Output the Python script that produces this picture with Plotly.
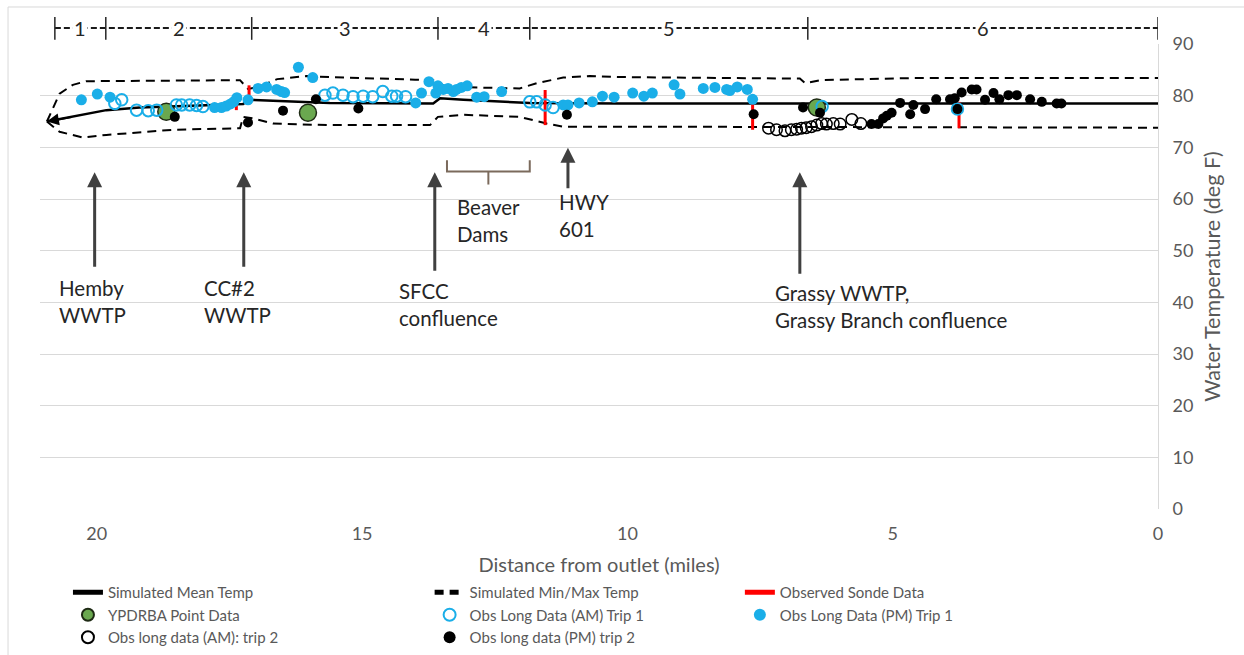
import plotly.graph_objects as go

# ---------------- data ----------------
mean_x = [20.94, 20.45, 19.82, 19.19, 18.56, 17.81, 17.24, 17.15, 16.68, 15.61, 13.66, 13.53, 13.09, 11.84, 10.14, 7.0, 3.0, 0.0]
mean_y = [75.0, 75.9, 77.2, 77.7, 77.9, 78.2, 78.4, 79.2, 79.0, 78.6, 78.5, 79.5, 79.2, 78.6, 78.5, 78.5, 78.5, 78.5]

max_x = [20.94, 20.70, 20.45, 20.20, 17.30, 17.22, 17.15, 16.98, 16.60, 16.05, 15.61, 14.0, 13.66, 13.41, 12.03, 11.71, 11.21, 10.71, 10.14, 6.75, 6.65, 6.37, 4.67, 0.0]
max_y = [75.0, 80.4, 82.1, 82.8, 83.0, 82.1, 81.3, 81.6, 83.2, 83.8, 83.6, 83.1, 83.0, 81.7, 81.4, 82.4, 83.5, 83.8, 83.6, 83.3, 82.4, 83.0, 83.4, 83.4]

min_x = [20.94, 20.70, 20.26, 19.82, 18.56, 17.30, 17.24, 17.05, 16.68, 15.61, 13.72, 13.57, 13.09, 12.03, 11.52, 11.21, 10.14, 0.0]
min_y = [75.0, 73.0, 71.9, 72.4, 73.4, 73.7, 75.9, 75.6, 74.6, 74.3, 74.3, 75.9, 76.3, 75.9, 74.6, 74.0, 74.0, 73.8]

sonde_x = [17.13, 17.37, 11.55, 7.64, 3.75]
sonde_lo = [80.1, 77.2, 74.3, 73.4, 73.7]
sonde_hi = [82.0, 78.2, 81.1, 78.5, 78.8]

ypdrba_x = [18.69, 16.02, 6.43]
ypdrba_y = [76.9, 76.7, 77.7]

am1_x = [19.66, 19.53, 19.25, 19.03, 18.87, 18.50, 18.40, 18.25, 18.12, 18.00, 15.70, 15.55, 15.36, 15.17, 14.98,
         14.80, 14.61, 14.44, 14.35, 14.18, 11.84, 11.71, 11.55, 11.40, 6.33, 3.78]
am1_y = [78.5, 79.2, 77.2, 77.1, 77.2, 78.2, 78.2, 78.2, 78.1, 77.9, 80.1, 80.5, 80.1, 79.8, 79.9,
         79.8, 80.8, 79.9, 79.9, 79.8, 78.8, 78.8, 78.2, 77.7, 77.9, 77.4]

pm1_x = [20.29, 19.99, 19.75, 17.78, 17.65, 17.56, 17.48, 17.42, 17.36, 17.15, 16.96, 16.80, 16.61, 16.52, 16.46,
         16.20, 15.93, 13.99, 13.88, 13.74, 13.61, 13.57, 13.47, 13.38, 13.28, 13.22, 13.13, 13.02, 12.84, 12.70,
         12.37, 11.21, 11.12, 10.91, 10.66, 10.47, 10.25, 9.90, 9.69, 9.53, 9.12, 9.01, 8.57, 8.35, 8.13, 8.07,
         7.93, 7.74, 7.64]
pm1_y = [79.2, 80.3, 79.7, 77.7, 77.7, 78.0, 78.4, 78.8, 79.6, 79.2, 81.4, 81.7, 81.2, 80.8, 80.6,
         85.5, 83.5, 78.6, 80.5, 82.7, 80.5, 81.9, 81.2, 81.4, 80.8, 81.2, 81.6, 81.9, 79.7, 79.8,
         80.8, 78.2, 78.2, 78.6, 78.8, 79.9, 79.7, 80.5, 79.9, 80.5, 82.1, 80.3, 81.4, 81.6, 81.2, 81.0,
         81.7, 81.2, 79.3]

am2_x = [7.34, 7.19, 7.03, 6.91, 6.81, 6.72, 6.63, 6.53, 6.43, 6.34, 6.25, 6.12, 5.99, 5.77, 5.60]
am2_y = [73.7, 73.4, 73.2, 73.4, 73.5, 73.7, 73.8, 74.0, 74.3, 74.6, 74.5, 74.6, 74.5, 75.4, 74.6]

pm2_x = [18.53, 17.15, 16.49, 15.87, 15.07, 11.14, 7.62, 6.69, 6.37, 5.40, 5.27, 5.18, 5.11, 5.02, 4.86, 4.67,
         4.61, 4.39, 4.18, 3.92, 3.83, 3.78, 3.70, 3.51, 3.42, 3.26, 3.10, 2.99, 2.82, 2.66, 2.41, 2.19, 1.91, 1.82]
pm2_y = [75.9, 74.8, 77.1, 79.3, 77.5, 76.3, 76.4, 77.7, 76.7, 74.5, 74.5, 75.6, 76.1, 76.7, 78.6, 76.4,
         78.2, 77.4, 79.3, 79.3, 79.5, 77.4, 80.6, 81.2, 81.2, 79.2, 80.5, 79.3, 80.1, 80.1, 79.3, 78.8, 78.5, 78.5]

# reach segments (miles from outlet)
seg_bounds = [20.79, 19.83, 17.08, 13.57, 11.84, 6.60, 0.0]
seg_labels = ["1", "2", "3", "4", "5", "6"]

x_ticks = [0, 5, 10, 15, 20]
y_ticks = [0, 10, 20, 30, 40, 50, 60, 70, 80, 90]

FONT = "Lato"
GRAY = "#595959"
CYAN = "#1aaee8"

fig = go.Figure()

fig.add_trace(go.Scatter(x=mean_x, y=mean_y, mode="lines", name="Simulated Mean Temp",
                         line=dict(color="black", width=2.5), legend="legend"))
fig.add_trace(go.Scatter(x=max_x, y=max_y, mode="lines", name="Simulated Min/Max Temp",
                         line=dict(color="black", width=2, dash="9px,6px"), legend="legend2"))
fig.add_trace(go.Scatter(x=min_x, y=min_y, mode="lines", name="Simulated Min/Max Temp", showlegend=False,
                         line=dict(color="black", width=2, dash="9px,6px"), legend="legend2"))

sx, sy = [], []
for xv, lo, hi in zip(sonde_x, sonde_lo, sonde_hi):
    sx += [xv, xv, None]
    sy += [lo, hi, None]
fig.add_trace(go.Scatter(x=sx, y=sy, mode="lines", name="Observed Sonde Data",
                         line=dict(color="#ff0000", width=3), legend="legend3"))

fig.add_trace(go.Scatter(x=ypdrba_x, y=ypdrba_y, mode="markers", name="YPDRBA Point Data", legend="legend",
                         marker=dict(size=17, color="#6aa84f", line=dict(color="#1e2a14", width=1.5))))
fig.add_trace(go.Scatter(x=am1_x, y=am1_y, mode="markers", name="Obs Long Data (AM) Trip 1", legend="legend2",
                         marker=dict(size=11.5, symbol="circle-open", color=CYAN, line=dict(width=2))))
fig.add_trace(go.Scatter(x=pm1_x, y=pm1_y, mode="markers", name="Obs Long Data (PM) Trip 1", legend="legend3",
                         marker=dict(size=11, color=CYAN)))
fig.add_trace(go.Scatter(x=am2_x, y=am2_y, mode="markers", name="Obs long data (AM): trip 2", legend="legend",
                         marker=dict(size=11.5, symbol="circle-open", color="black", line=dict(width=1.5))))
fig.add_trace(go.Scatter(x=pm2_x, y=pm2_y, mode="markers", name="Obs long data (PM) trip 2", legend="legend2",
                         marker=dict(size=10, color="black")))

annotations = []
# arrowhead at the upstream end of the mean line
annotations.append(dict(x=mean_x[0], y=mean_y[0], ax=mean_x[1], ay=mean_y[1], axref="x", ayref="y",
                        xref="x", yref="y", text="", showarrow=True, arrowhead=2, arrowsize=1.2,
                        arrowwidth=2, arrowcolor="black", standoff=0))

# labelled arrows
arrow_specs = [  # (x mile, head temp, tail px length)
    (20.04, 65.2, 96), (17.23, 65.2, 96), (13.63, 65.2, 100), (11.12, 69.9, 42), (6.75, 65.2, 103)]
for xm, yh, L in arrow_specs:
    annotations.append(dict(x=xm, y=yh, xref="x", yref="y", ax=0, ay=L, text="", showarrow=True,
                            arrowhead=2, arrowsize=1, arrowwidth=3, arrowcolor="#404040", standoff=0))

text_specs = [
    ("Hemby<br>WWTP", 20.75, 45.4),
    ("CC#2<br>WWTP", 18.02, 45.4),
    ("SFCC<br>confluence", 14.35, 45.0),
    ("Beaver<br>Dams", 13.25, 61.2),
    ("HWY<br>601", 11.33, 62.2),
    ("Grassy WWTP,<br>Grassy Branch confluence", 7.25, 44.6),
]
for t, xm, yt in text_specs:
    annotations.append(dict(x=xm, y=yt, xref="x", yref="y", text=t, showarrow=False, xanchor="left",
                            yanchor="top", align="left", font=dict(family=FONT, size=20.5, color="#262626")))

# segment labels on top bar
bar_y = 1.0344
for i, lab in enumerate(seg_labels):
    xm = (seg_bounds[i] + seg_bounds[i + 1]) / 2
    annotations.append(dict(x=xm, y=bar_y, xref="x", yref="paper", text=lab, showarrow=False,
                            xanchor="center", yanchor="middle",
                            bgcolor="white", borderpad=1, font=dict(family=FONT, size=20, color="#262626")))

shapes = []
shapes.append(dict(type="line", xref="x", yref="paper", x0=seg_bounds[0], x1=seg_bounds[-1], y0=bar_y, y1=bar_y,
                   line=dict(color="#1a1a1a", width=2, dash="6px,3px"), layer="above"))
for b in seg_bounds:
    shapes.append(dict(type="line", xref="x", yref="paper", x0=b, x1=b, y0=1.009, y1=1.058,
                       line=dict(color="#262626", width=1.5)))

# beaver dam bracket
bx0, bx1 = 13.40, 11.84
bm = (bx0 + bx1) / 2
bcol = "#7b6a5c"
shapes.append(dict(type="path", xref="x", yref="y",
                   path=f"M {bx0},67.5 L {bx0},65.3 L {bx1},65.3 L {bx1},67.5",
                   line=dict(color=bcol, width=2)))
shapes.append(dict(type="line", xref="x", yref="y", x0=bm, x1=bm, y0=65.3, y1=62.8,
                   line=dict(color=bcol, width=2)))

# outer chart border
shapes.append(dict(type="rect", xref="paper", yref="paper", x0=-0.0286, x1=1.2, y0=-0.4, y1=1.0796,
                   line=dict(color="#d9d9d9", width=1), layer="below"))

leg_common = dict(yref="container", y=0.1206, xanchor="left", yanchor="top", orientation="v",
                  bgcolor="rgba(0,0,0,0)", font=dict(family=FONT, size=15, color=GRAY),
                  itemsizing="constant", tracegroupgap=0)

fig.update_layout(
    width=1244, height=655,
    margin=dict(l=40, r=86, t=44, b=146, autoexpand=False),
    paper_bgcolor="white", plot_bgcolor="white",
    font=dict(family=FONT, color=GRAY),
    annotations=annotations, shapes=shapes,
    xaxis=dict(range=[21.07, 0], tickvals=x_ticks, showgrid=False, zeroline=False, automargin=False,
               showline=False, ticks="", ticklabelstandoff=12,
               tickfont=dict(family=FONT, size=18, color=GRAY),
               title=dict(text="Distance from outlet (miles)", standoff=14,
                          font=dict(family=FONT, size=20, color=GRAY))),
    yaxis=dict(range=[0, 90], tickvals=y_ticks, side="right", showgrid=True, gridcolor="#d9d9d9",
               gridwidth=1, zeroline=False, showline=True, linecolor="#d9d9d9", ticks="", automargin=False,
               ticklabelstandoff=10, tickfont=dict(family=FONT, size=18, color=GRAY),
               title=dict(text="Water Temperature (deg F)", standoff=12,
                          font=dict(family=FONT, size=21.5, color=GRAY))),
    legend=dict(x=0.025, **leg_common),
    legend2=dict(x=0.3485, **leg_common),
    legend3=dict(x=0.626, **leg_common),
    showlegend=True,
)

fig.write_html("out.html")
